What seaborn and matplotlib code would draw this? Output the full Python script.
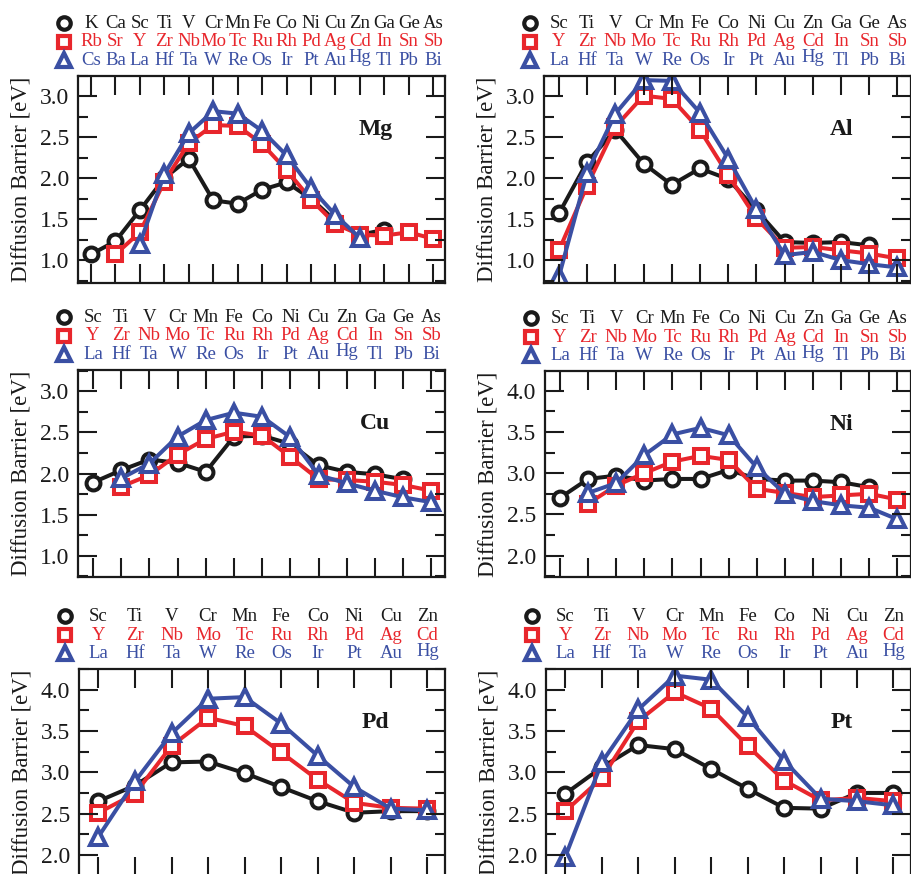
import numpy as np
import pandas as pd
import matplotlib
matplotlib.use("Agg")
import matplotlib.pyplot as plt
import seaborn as sns
from matplotlib.ticker import MultipleLocator, FormatStrFormatter

sns.set_theme(style="ticks")
plt.rcParams['font.family'] = ['Liberation Serif', 'DejaVu Serif']

# ---- element labels (header rows) ----
row_black = ["Sc", "Ti", "V", "Cr", "Mn", "Fe", "Co", "Ni", "Cu", "Zn", "Ga", "Ge", "As"]
row_red = ["Y", "Zr", "Nb", "Mo", "Tc", "Ru", "Rh", "Pd", "Ag", "Cd", "In", "Sn", "Sb"]
row_blue = ["La", "Hf", "Ta", "W", "Re", "Os", "Ir", "Pt", "Au", "Hg", "Tl", "Pb", "Bi"]
mg_row_black = ["K", "Ca"] + row_black
mg_row_red = ["Rb", "Sr"] + row_red
mg_row_blue = ["Cs", "Ba"] + row_blue
tm_row_black = row_black[:10]
tm_row_red = row_red[:10]
tm_row_blue = row_blue[:10]

hosts = ["Mg", "Al", "Cu", "Ni", "Pd", "Pt"]

# ---- diffusion barriers [eV] (3d = black, 4d = red, 5d = blue) ----
mg_3d = [1.07, 1.23, 1.61, 2.00, 2.24, 1.73, 1.69, 1.86, 1.95, 1.75, 1.48, 1.31, 1.37, None, None]
mg_4d = [None, 1.07, 1.34, 1.96, 2.43, 2.65, 2.64, 2.42, 2.10, 1.74, 1.44, 1.31, 1.30, 1.34, 1.26]
mg_5d = [None, None, 1.20, 2.05, 2.55, 2.82, 2.79, 2.58, 2.28, 1.88, 1.55, 1.27, None, None, None]

al_3d = [1.57, 2.20, 2.59, 2.18, 1.92, 2.12, 1.99, 1.61, 1.22, 1.21, 1.22, 1.18, None]
al_4d = [1.12, 1.91, 2.63, 3.01, 2.97, 2.59, 2.04, 1.51, 1.15, 1.16, 1.12, 1.08, 1.02]
al_5d = [0.80, 2.07, 2.79, 3.20, 3.19, 2.80, 2.24, 1.62, 1.06, 1.10, 1.00, 0.95, 0.91]

cu_3d = [1.89, 2.04, 2.17, 2.13, 2.02, 2.45, 2.46, 2.36, 2.10, 2.02, 1.99, 1.93, None]
cu_4d = [None, 1.84, 1.98, 2.23, 2.42, 2.51, 2.46, 2.20, 1.93, 1.92, 1.90, 1.86, 1.79]
cu_5d = [None, 1.94, 2.12, 2.45, 2.65, 2.74, 2.69, 2.44, 1.98, 1.88, 1.79, 1.71, 1.65]

ni_3d = [2.70, 2.93, 2.97, 2.91, 2.93, 2.93, 3.04, 2.93, 2.91, 2.91, 2.89, 2.83, None]
ni_4d = [None, 2.63, 2.85, 3.00, 3.14, 3.21, 3.16, 2.81, 2.76, 2.71, 2.73, 2.75, 2.68]
ni_5d = [None, 2.76, 2.88, 3.22, 3.47, 3.55, 3.46, 3.07, 2.75, 2.66, 2.61, 2.58, 2.44]

pd_3d = [2.65, 2.84, 3.12, 3.13, 2.99, 2.82, 2.65, 2.51, 2.53, 2.53]
pd_4d = [2.51, 2.74, 3.32, 3.66, 3.56, 3.24, 2.91, 2.63, 2.57, 2.56]
pd_5d = [2.22, 2.89, 3.47, 3.89, 3.91, 3.59, 3.20, 2.82, 2.56, 2.54]

pt_3d = [2.74, 3.06, 3.33, 3.28, 3.04, 2.80, 2.57, 2.56, 2.75, 2.75]
pt_4d = [2.53, 2.93, 3.62, 3.97, 3.77, 3.32, 2.90, 2.66, 2.69, 2.65]
pt_5d = [1.98, 3.12, 3.76, 4.17, 4.12, 3.67, 3.14, 2.68, 2.65, 2.60]

BLACK = "#1a1a1a"
RED = "#e8262c"
BLUE = "#3a4fa3"

panels = [
    ("Mg", (mg_row_black, mg_row_red, mg_row_blue), (mg_3d, mg_4d, mg_5d), (0.72, 3.25), (78, 76, 445, 283)),
    ("Al", (row_black, row_red, row_blue), (al_3d, al_4d, al_5d), (0.72, 3.25), (544, 76, 911, 283)),
    ("Cu", (row_black, row_red, row_blue), (cu_3d, cu_4d, cu_5d), (0.74, 3.26), (78, 370, 445, 577)),
    ("Ni", (row_black, row_red, row_blue), (ni_3d, ni_4d, ni_5d), (1.74, 4.24), (545, 371, 911, 577)),
    ("Pd", (tm_row_black, tm_row_red, tm_row_blue), (pd_3d, pd_4d, pd_5d), (1.745, 4.25), (79, 669, 445, 876)),
    ("Pt", (tm_row_black, tm_row_red, tm_row_blue), (pt_3d, pt_4d, pt_5d), (1.745, 4.25), (546, 669, 911, 876)),
]

W, H = 912, 874
fig = plt.figure(figsize=(W / 100, H / 100), dpi=100)

colors = [BLACK, RED, BLUE]
markers = ["o", "s", "^"]
msizes = [10.0, 9.5, 12.0]
hdr_ms = [9.0, 8.5, 10.5]
zorders = [2.0, 2.1, 2.2]

for host, rows, series, ylim, (l, t, r, b) in panels:
    ax = fig.add_axes([l / W, 1 - b / H, (r - l) / W, (b - t) / H])
    ax.set_axisbelow(False)
    n = len(rows[0])
    for vals, c, m, ms, z in zip(series, colors, markers, msizes, zorders):
        xs = [i for i, v in enumerate(vals) if v is not None]
        ys = [v for v in vals if v is not None]
        sns.lineplot(x=xs, y=ys, ax=ax, color=c, marker=m, markersize=ms,
                     markerfacecolor="white", markeredgecolor=c, markeredgewidth=2.9,
                     linewidth=2.9, zorder=z, legend=False)
    ax.set_xlim(-0.53, n - 1 + 0.48)
    ax.set_ylim(*ylim)
    ax.set_xticks(range(n))
    ax.yaxis.set_major_locator(MultipleLocator(0.5))
    ax.yaxis.set_minor_locator(MultipleLocator(0.25))
    ax.yaxis.set_major_formatter(FormatStrFormatter('%.1f'))
    ax.tick_params(axis='x', which='major', direction='in', top=True, bottom=True,
                   length=13.5, width=1.5, color=BLACK, labelbottom=False)
    ax.tick_params(axis='x', which='minor', top=False, bottom=False)
    ax.tick_params(axis='y', which='major', direction='in', left=True, right=True,
                   length=13.5, width=1.5, color=BLACK, labelsize=17, pad=6.5,
                   labelcolor=BLACK)
    ax.tick_params(axis='y', which='minor', direction='in', left=True, right=True,
                   length=7, width=1.5, color=BLACK)
    for s in ax.spines.values():
        s.set_linewidth(1.6)
        s.set_color(BLACK)
    ax.set_xlabel("")
    ax.set_ylabel("Diffusion Barrier [eV]", fontsize=16.5, labelpad=6, color=BLACK)
    ax.text(0.81, 0.74, host, transform=ax.transAxes, fontsize=17, fontweight='bold',
            ha='center', va='center', color=BLACK)

    # header rows with element symbols
    hh = b - t
    trans = ax.get_xaxis_transform()
    base_off = [48, 29.5, 11]
    mark_off = [53, 34, 16]
    for row, c, bo, mo, m, hms in zip(rows, colors, base_off, mark_off, markers, hdr_ms):
        for i, lab in enumerate(row):
            dy = 2.5 if lab == "Hg" else 0
            ax.text(i, 1 + (bo + dy) / hh, lab, transform=trans, ha='center', va='baseline',
                    color=c, fontsize=13.5, clip_on=False)
        ax.plot([-14 / (r - l)], [1 + mo / hh], transform=ax.transAxes, marker=m,
                markersize=hms, markerfacecolor='white', markeredgecolor=c,
                markeredgewidth=3.0, linestyle='none', clip_on=False)

fig.savefig("out.png", dpi=100)
